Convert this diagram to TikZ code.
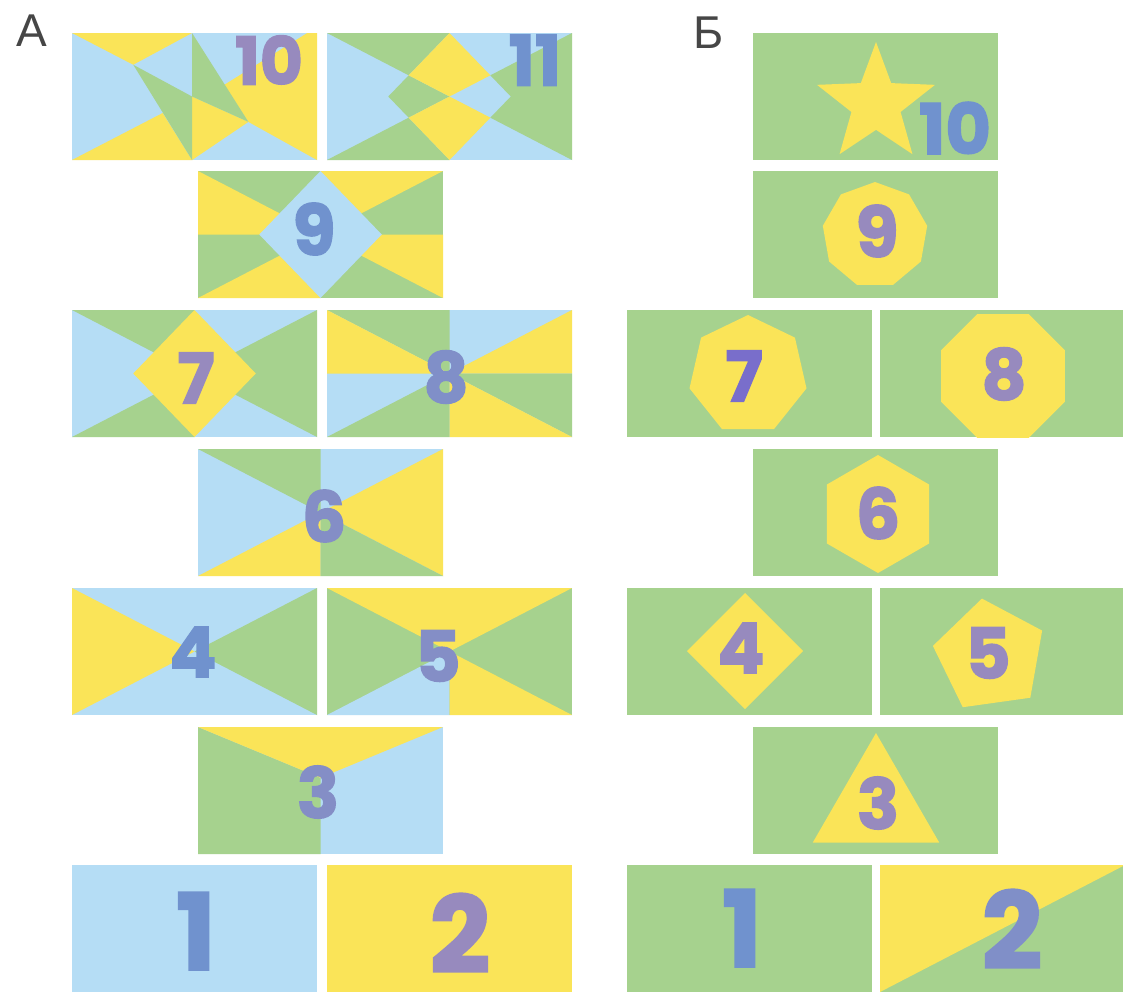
\documentclass[tikz,border=0pt]{standalone}
\usepackage{fontspec}
\usepackage{xcolor}
\usepackage{tikz}
\usetikzlibrary{shapes.geometric}

\newfontfamily\numfont{Poppins}[BoldFeatures={FakeBold=2}]
\newfontfamily\lettfont{Liberation Sans}

\definecolor{sky}{RGB}{181,221,245}
\definecolor{sun}{RGB}{250,228,88}
\definecolor{grass}{RGB}{166,210,142}
\definecolor{numblue}{RGB}{112,146,206}
\definecolor{numpurple}{RGB}{151,138,190}
\definecolor{ink}{RGB}{70,70,70}

\begin{document}
\begin{tikzpicture}[
  x=1pt, y=-1pt,
  tile/.style={shift={(#1)}, x=245pt, y=-127pt},
  num/.style={font=\numfont\bfseries\fontsize{70}{70}\selectfont, text=numpurple, inner sep=0pt},
  bignum/.style={num, font=\numfont\bfseries\fontsize{106}{106}\selectfont},
  badge/.style={fill=sun, inner sep=0pt, outer sep=0pt},
  letter/.style={font=\lettfont\fontsize{46}{46}\selectfont, text=ink, inner sep=0pt}
]

\fill[white] (0,0) rectangle (1123,991);
\useasboundingbox (0,0) rectangle (1123,991);

\node[letter] (setA) at (32,31) {А};
\node[letter] (setB) at (709,33) {Б};

\foreach \px/\py/\col in {72/33/sky, 327/33/sky, 198/171/grass, 72/310/sky, 327/310/sky,
    198/449/sky, 72/588/sky, 327/588/grass, 198/727/sky, 72/865/sky, 327/865/sun}
  \fill[\col] (\px,\py) rectangle ++(245,127);

\begin{scope}[tile={72,33}]
  \fill[sun] (0,0) -- (.49,0) -- (.25,.25) -- cycle;
  \fill[sun] (0,1) -- (.49,1) -- (.37,.63) -- cycle;
  \fill[sun] (.62,.41) -- (.96,0) -- (1,0) -- (1,1) -- (.72,.7) -- cycle;
  \fill[sun] (.49,.5) -- (.72,.7) -- (.49,1) -- cycle;
  \fill[grass] (.25,.25) -- (.49,.5) -- (.49,1) -- cycle;
  \fill[grass] (.49,0) -- (.49,.5) -- (.72,.7) -- cycle;
\end{scope}

\begin{scope}[tile={327,33}]
  \fill[grass] (0,0) -- (.5,0) -- (1/3,1/3) -- cycle;
  \fill[grass] (0,1) -- (.5,1) -- (1/3,2/3) -- cycle;
  \fill[grass] (1,0) -- (2/3,1/3) -- (.75,.5) -- (2/3,2/3) -- (1,1) -- cycle;
  \fill[grass] (.25,.5) -- (1/3,1/3) -- (.5,.5) -- (1/3,2/3) -- cycle;
  \fill[sun] (.5,0) -- (2/3,1/3) -- (.5,.5) -- (1/3,1/3) -- cycle;
  \fill[sun] (.5,1) -- (2/3,2/3) -- (.5,.5) -- (1/3,2/3) -- cycle;
\end{scope}

\begin{scope}[tile={198,171}]
  \fill[sun] (0,0) -- (.5,.5) -- (0,.5) -- cycle;
  \fill[sun] (.5,0) -- (1,0) -- (.5,.5) -- cycle;
  \fill[sun] (1,.5) -- (1,1) -- (.5,.5) -- cycle;
  \fill[sun] (0,1) -- (.5,.5) -- (.5,1) -- cycle;
  \fill[sky] (.5,0) -- (.75,.5) -- (.5,1) -- (.25,.5) -- cycle;
\end{scope}

\begin{scope}[tile={72,310}]
  \fill[grass] (0,0) -- (.5,0) -- (.5,.5) -- cycle;
  \fill[grass] (1,0) -- (1,1) -- (.5,.5) -- cycle;
  \fill[grass] (0,1) -- (.5,1) -- (.5,.5) -- cycle;
  \fill[sun] (.5,0) -- (.75,.5) -- (.5,1) -- (.25,.5) -- cycle;
\end{scope}

\begin{scope}[tile={327,310}]
  \fill[grass] (0,0) -- (.5,0) -- (.5,.5) -- cycle;
  \fill[sun] (0,0) -- (.5,.5) -- (0,.5) -- cycle;
  \fill[sun] (1,0) -- (1,.5) -- (.5,.5) -- cycle;
  \fill[grass] (0,1) -- (.5,1) -- (.5,.5) -- cycle;
  \fill[grass] (1,.5) -- (1,1) -- (.5,.5) -- cycle;
  \fill[sun] (.5,1) -- (1,1) -- (.5,.5) -- cycle;
\end{scope}

\begin{scope}[tile={198,449}]
  \fill[grass] (0,0) -- (.5,0) -- (.5,.5) -- cycle;
  \fill[sun] (1,0) -- (1,1) -- (.5,.5) -- cycle;
  \fill[sun] (0,1) -- (.5,1) -- (.5,.5) -- cycle;
  \fill[grass] (.5,1) -- (1,1) -- (.5,.5) -- cycle;
\end{scope}

\begin{scope}[tile={72,588}]
  \fill[sun] (0,0) -- (.5,.5) -- (0,1) -- cycle;
  \fill[grass] (1,0) -- (.5,.5) -- (1,1) -- cycle;
\end{scope}

\begin{scope}[tile={327,588}]
  \fill[sun] (0,0) -- (1,0) -- (.5,.5) -- cycle;
  \fill[sky] (0,1) -- (.5,.5) -- (.5,1) -- cycle;
  \fill[sun] (.5,1) -- (.5,.5) -- (1,1) -- cycle;
\end{scope}

\begin{scope}[tile={198,727}]
  \fill[grass] (0,0) -- (.5,.4) -- (.5,1) -- (0,1) -- cycle;
  \fill[sun] (0,0) -- (1,0) -- (.5,.4) -- cycle;
\end{scope}

\node[num, font=\numfont\bfseries\fontsize{66}{66}\selectfont] (a10) at (269,60) {10};
\node[num, text=numblue] (a11) at (535,60) {11};
\node[num, text=numblue] (a9) at (314,229) {9};
\node[num] (a7) at (196,378) {7};
\node[num, text=numblue!60!numpurple] (a8) at (446,377) {8};
\node[num, text=numblue!50!numpurple] (a6) at (324,516) {6};
\node[num, text=numblue] (a4) at (193,652) {4};
\node[num, text=numblue!50!numpurple] (a5) at (438,656) {5};
\node[num, text=numblue!50!numpurple] (a3) at (318,792) {3};
\node[bignum, text=numblue] (a1) at (196,931) {1};
\node[bignum] (a2) at (460,933) {2};

\foreach \px/\py in {753/33, 753/171, 627/310, 880/310, 753/449,
    627/588, 880/588, 753/727, 627/865, 880/865}
  \fill[grass] (\px,\py) rectangle ++(245,127);

\fill[sun] (880,865) -- (1125,865) -- (880,992) -- cycle;

\node[badge, star, star points=5, star point ratio=2.4, minimum size=124pt] (b10star) at (876,104) {};
\node[badge, regular polygon, regular polygon sides=9, minimum size=106pt] (b9badge) at (875,235) {};
\node[badge, regular polygon, regular polygon sides=7, minimum size=120pt] (b7badge) at (748,375) {};
\node[badge, regular polygon, regular polygon sides=8, minimum size=134pt] (b8badge) at (1003,376) {};
\node[badge, regular polygon, regular polygon sides=6, shape border rotate=30, minimum size=118pt] (b6badge) at (878,514) {};
\node[badge, regular polygon, regular polygon sides=4, shape border rotate=45, minimum size=116pt] (b4badge) at (745,651) {};
\node[badge, regular polygon, regular polygon sides=5, shape border rotate=8, minimum size=116pt] (b5badge) at (990,656) {};
\node[badge, regular polygon, regular polygon sides=3, minimum size=146pt] (b3badge) at (876,806) {};

\node[num, text=numblue] (b10) at (955,128) {10};
\node[num] (b9) at (877,231) {9};
\node[num, text=numpurple!80!blue] (b7) at (744,376) {7};
\node[num] (b8) at (1004,374) {8};
\node[num] (b6) at (878,513) {6};
\node[num] (b4) at (741,648) {4};
\node[num] (b5) at (988,653) {5};
\node[num] (b3) at (878,803) {3};
\node[bignum, text=numblue] (b1) at (742,928) {1};
\node[bignum, text=numblue!60!numpurple] (b2) at (1012,929) {2};

\end{tikzpicture}
\end{document}
